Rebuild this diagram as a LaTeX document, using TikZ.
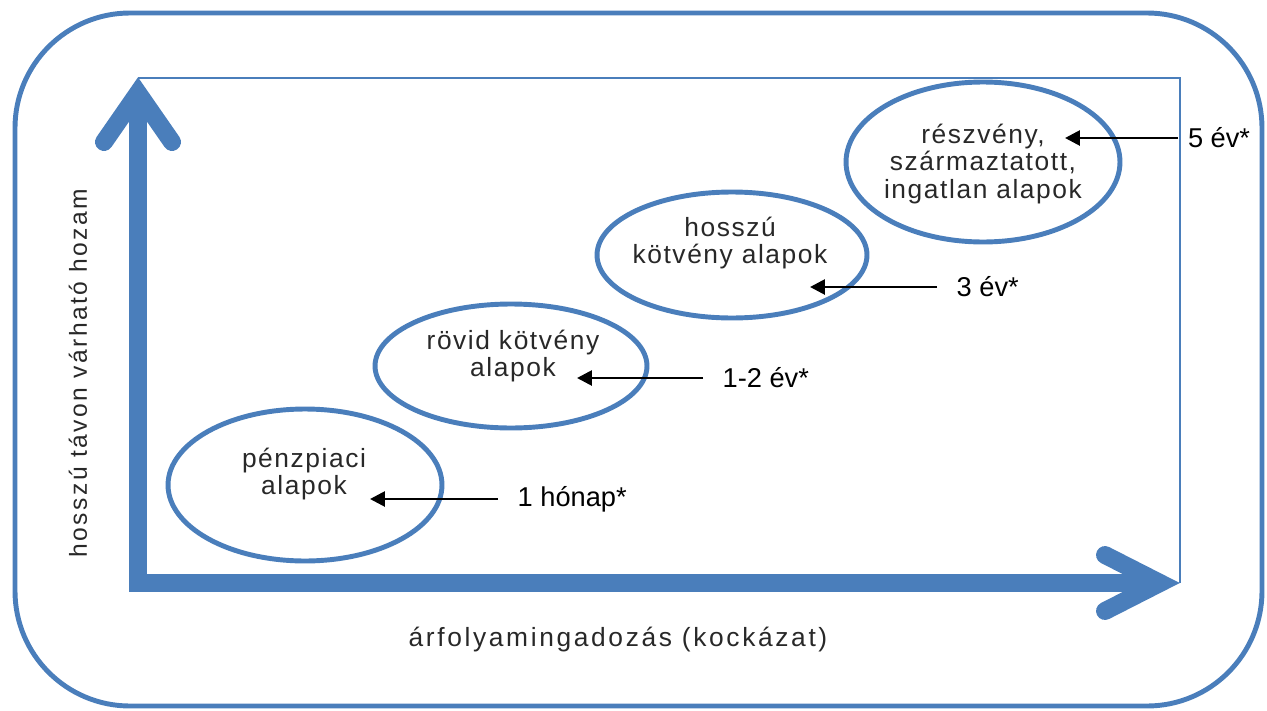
\documentclass[tikz,border=0pt]{standalone}
\usepackage{fontspec}
\setmainfont{Liberation Sans}
\newfontfamily\alapfont[LetterSpace=6]{Liberation Sans}
\newfontfamily\tengelyfont[LetterSpace=10]{Liberation Sans}
\usetikzlibrary{shapes.geometric, arrows.meta}
\definecolor{kek}{RGB}{74,126,187}
\definecolor{sotet}{RGB}{40,40,40}
\tikzstyle{alap} = [ellipse, draw=kek, line width=2.8pt, inner sep=0pt]
\tikzstyle{alapszoveg} = [align=center, text=sotet, font=\alapfont\fontsize{15}{15.5}\selectfont]
\tikzstyle{ido} = [anchor=west, inner xsep=11pt, inner ysep=0pt, font=\fontsize{15.5}{18}\selectfont]
\tikzstyle{tengelyszoveg} = [font=\tengelyfont\fontsize{15}{17}\selectfont, text=sotet]
\tikzstyle{tengely} = [draw=kek, line width=10.2pt, line join=miter]
\tikzstyle{nyil} = [line width=1.6pt,-{Triangle[length=8.5pt,width=8.5pt]}]

\begin{document}
\begin{tikzpicture}[x=0.02cm, y=-0.02cm]
        \useasboundingbox (0,0) rectangle (1267,710);
        \draw[kek, line width=2.8pt, rounded corners=2.3cm] (15,13) rectangle (1262,706);
        \draw[kek, line width=1.1pt] (138,78) -- (1180,78) -- (1180,583);
        \draw[tengely, line cap=butt] (138,95) -- (138,583) -- (1160,583);
        \draw[tengely, line cap=round] (104,142) -- (138,93) -- (172,142);
        \draw[tengely, line cap=round] (1105,555) -- (1160,583) -- (1105,611);

        \node (hozam) [tengelyszoveg, font=\tengelyfont\fontsize{14}{16}\selectfont, rotate=90] at (78,373) {hosszú távon várható hozam};
        \node (kockazat) [tengelyszoveg] at (618,640) {árfolyamingadozás (kockázat)};

        \node (penz) [alap, minimum width=5.48cm, minimum height=3.04cm] at (305,485) {};
        \node (rovid) [alap, minimum width=5.44cm, minimum height=2.48cm] at (511,366) {};
        \node (hosszu) [alap, minimum width=5.40cm, minimum height=2.52cm] at (732,255) {};
        \node (reszveny) [alap, minimum width=5.48cm, minimum height=3.20cm] at (983,162) {};

        \node (penztxt) [alapszoveg] at (304,474) {pénzpiaci\\alapok};
        \node (rovidtxt) [alapszoveg] at (513,356) {rövid kötvény\\alapok};
        \node (hosszutxt) [alapszoveg] at (730,243) {hosszú\\kötvény alapok};
        \node (reszvenytxt) [alapszoveg] at (983,164) {részvény,\\származtatott,\\ingatlan alapok};

        \coordinate (penzcel) at (370,499);
        \coordinate (rovidcel) at (577,378);
        \coordinate (hosszucel) at (810,287);
        \coordinate (reszvenycel) at (1065,138);

        \node (honap) [ido] at (498,499) {1 hónap*};
        \node (ketev) [ido] at (703,378) {1-2 év*};
        \node (haromev) [ido] at (937,287) {3 év*};
        \node (otev) [ido, inner xsep=5.5pt] at (1178,138) {5 év*};

        \draw[nyil] (honap.west) -- (penzcel);
        \draw[nyil] (ketev.west) -- (rovidcel);
        \draw[nyil] (haromev.west) -- (hosszucel);
        \draw[nyil] (otev.west) -- (reszvenycel);
\end{tikzpicture}
\end{document}
